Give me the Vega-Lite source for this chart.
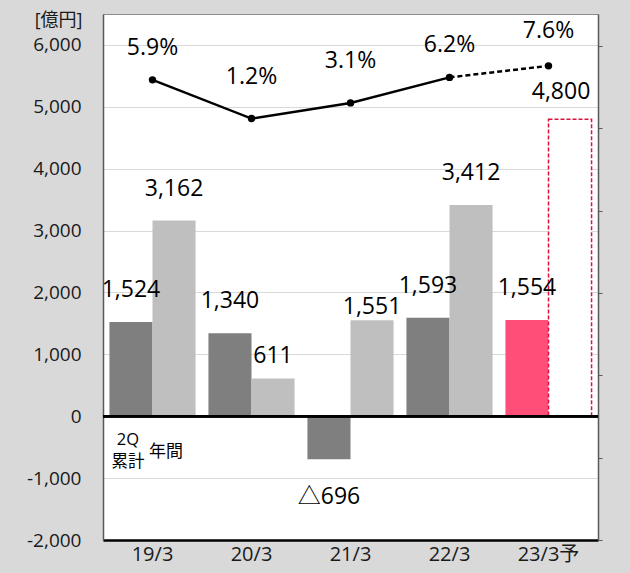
{
  "$schema": "https://vega.github.io/schema/vega-lite/v6.json",
  "width": 495,
  "height": 526,
  "autosize": {"type": "none"},
  "padding": {"left": 103, "top": 14, "right": 32, "bottom": 33},
  "background": "#d9d9d9",
  "config": {
    "font": "Open Sans, Noto Sans CJK JP",
    "view": {"fill": "white", "stroke": "#8c8c8c", "strokeWidth": 1},
    "scale": {"offsetBandPaddingInner": 0, "offsetBandPaddingOuter": 0},
    "axisX": {"title": null, "labelAngle": 0, "labelFontSize": 20, "labelColor": "#1a1a1a", "ticks": false, "domainColor": "#000000", "domainWidth": 2.5, "labelPadding": 4, "grid": false, "labelFont": "Open Sans, Noto Sans CJK JP"},
    "axisLeft": {"titleAngle": 0, "titleAlign": "right", "titleBaseline": "middle", "titleX": -21, "titleY": 6, "titleFontSize": 18, "titleFontWeight": "normal", "titleColor": "#1a1a1a", "titleFont": "Open Sans, Noto Sans CJK JP", "labelFontSize": 19, "labelColor": "#1a1a1a", "labelPadding": 22, "ticks": false, "domainColor": "#595959", "domainWidth": 1.5, "grid": true, "gridColor": "#d9d9d9", "gridWidth": 1.2, "labelFont": "Open Sans, Noto Sans CJK JP"},
    "axisRight": {"labels": false, "grid": false, "ticks": true, "tickSize": 4, "tickColor": "#595959", "domainColor": "#595959", "domainWidth": 1.5, "title": null}
  },
  "datasets": {
    "bars": [
      {"cat": "19/3", "series": "2Q", "kind": "2Q", "value": 1524, "label": "1,524"},
      {"cat": "19/3", "series": "年間", "kind": "年間", "value": 3162, "label": "3,162"},
      {"cat": "20/3", "series": "2Q", "kind": "2Q", "value": 1340, "label": "1,340"},
      {"cat": "20/3", "series": "年間", "kind": "年間", "value": 611, "label": "611"},
      {"cat": "21/3", "series": "2Q", "kind": "2Q", "value": -696, "label": "△696"},
      {"cat": "21/3", "series": "年間", "kind": "年間", "value": 1551, "label": "1,551"},
      {"cat": "22/3", "series": "2Q", "kind": "2Q", "value": 1593, "label": "1,593"},
      {"cat": "22/3", "series": "年間", "kind": "年間", "value": 3412, "label": "3,412"},
      {"cat": "23/3予", "series": "2Q", "kind": "2Q今期", "value": 1554, "label": "1,554"},
      {"cat": "23/3予", "series": "年間", "kind": "予想", "value": 4800, "label": "4,800"}
    ],
    "notes": [
      {"cat": "19/3", "series": "2Q", "text": "2Q\n累計"},
      {"cat": "19/3", "series": "年間", "text": "年間"}
    ],
    "pct": [
      {"cat": "19/3", "pct": 5.9, "label": "5.9%"},
      {"cat": "20/3", "pct": 1.2, "label": "1.2%"},
      {"cat": "21/3", "pct": 3.1, "label": "3.1%"},
      {"cat": "22/3", "pct": 6.2, "label": "6.2%"},
      {"cat": "23/3予", "pct": 7.6, "label": "7.6%"}
    ]
  },
  "layer": [
    {
      "layer": [
        {
          "data": {"name": "bars"},
          "transform": [{"filter": "datum.kind != '予想'"}],
          "mark": {"type": "bar"},
          "encoding": {
            "x": {"field": "cat", "type": "nominal", "sort": ["19/3", "20/3", "21/3", "22/3", "23/3予"], "scale": {"type": "band", "paddingInner": 0.13, "paddingOuter": 0.065}},
            "xOffset": {"field": "series", "type": "nominal", "sort": ["2Q", "年間"]},
            "y": {"field": "value", "type": "quantitative", "title": "[億円]", "scale": {"domain": [-2000, 6500], "nice": false, "zero": false}, "axis": {"values": [-2000, -1000, 0, 1000, 2000, 3000, 4000, 5000, 6000], "labelExpr": "datum.value < 0 ? '-' + format(-datum.value, ',') : format(datum.value, ',')"}},
            "color": {"field": "kind", "type": "nominal", "scale": {"domain": ["2Q", "年間", "2Q今期"], "range": ["#7f7f7f", "#bfbfbf", "#ff4f79"]}, "legend": null}
          }
        },
        {
          "data": {"name": "bars"},
          "transform": [{"filter": "datum.kind == '予想'"}],
          "mark": {"type": "bar", "fill": "white", "stroke": "#e0103c", "strokeWidth": 1.5, "strokeDash": [4, 2]},
          "encoding": {
            "x": {"field": "cat", "type": "nominal", "sort": ["19/3", "20/3", "21/3", "22/3", "23/3予"], "scale": {"type": "band", "paddingInner": 0.13, "paddingOuter": 0.065}},
            "xOffset": {"field": "series", "type": "nominal", "sort": ["2Q", "年間"]},
            "y": {"field": "value", "type": "quantitative", "title": "[億円]"}
          }
        },
        {
          "data": {"name": "bars"},
          "mark": {"type": "rule", "color": "#000000", "strokeWidth": 2},
          "encoding": {"y": {"datum": 0, "type": "quantitative"}}
        },
        {
          "data": {"name": "bars"},
          "transform": [{"filter": "indexof(['1,524','3,162','1,340','1,593','3,412','1,554'], datum.label) >= 0"}],
          "mark": {"type": "text", "fontSize": 23, "baseline": "middle", "dy": -32, "color": "#000000"},
          "encoding": {
            "x": {"field": "cat", "type": "nominal", "sort": ["19/3", "20/3", "21/3", "22/3", "23/3予"], "scale": {"type": "band", "paddingInner": 0.13, "paddingOuter": 0.065}},
            "xOffset": {"field": "series", "type": "nominal", "sort": ["2Q", "年間"]},
            "y": {"field": "value", "type": "quantitative", "title": "[億円]"},
            "text": {"field": "label"}
          }
        },
        {
          "data": {"name": "bars"},
          "transform": [{"filter": "datum.label == '611'"}],
          "mark": {"type": "text", "fontSize": 23, "baseline": "middle", "dy": -22, "color": "#000000"},
          "encoding": {
            "x": {"field": "cat", "type": "nominal", "sort": ["19/3", "20/3", "21/3", "22/3", "23/3予"], "scale": {"type": "band", "paddingInner": 0.13, "paddingOuter": 0.065}},
            "xOffset": {"field": "series", "type": "nominal", "sort": ["2Q", "年間"]},
            "y": {"field": "value", "type": "quantitative", "title": "[億円]"},
            "text": {"field": "label"}
          }
        },
        {
          "data": {"name": "bars"},
          "transform": [{"filter": "datum.label == '1,551'"}],
          "mark": {"type": "text", "fontSize": 23, "baseline": "middle", "dy": -13, "color": "#000000"},
          "encoding": {
            "x": {"field": "cat", "type": "nominal", "sort": ["19/3", "20/3", "21/3", "22/3", "23/3予"], "scale": {"type": "band", "paddingInner": 0.13, "paddingOuter": 0.065}},
            "xOffset": {"field": "series", "type": "nominal", "sort": ["2Q", "年間"]},
            "y": {"field": "value", "type": "quantitative", "title": "[億円]"},
            "text": {"field": "label"}
          }
        },
        {
          "data": {"name": "bars"},
          "transform": [{"filter": "datum.label == '4,800'"}],
          "mark": {"type": "text", "fontSize": 23, "baseline": "middle", "dy": -27, "dx": -9, "color": "#000000"},
          "encoding": {
            "x": {"field": "cat", "type": "nominal", "sort": ["19/3", "20/3", "21/3", "22/3", "23/3予"], "scale": {"type": "band", "paddingInner": 0.13, "paddingOuter": 0.065}},
            "xOffset": {"field": "series", "type": "nominal", "sort": ["2Q", "年間"]},
            "y": {"field": "value", "type": "quantitative", "title": "[億円]"},
            "text": {"field": "label"}
          }
        },
        {
          "data": {"name": "bars"},
          "transform": [{"filter": "datum.label == '△696'"}],
          "mark": {"type": "text", "fontSize": 23, "baseline": "middle", "dy": 38, "color": "#000000"},
          "encoding": {
            "x": {"field": "cat", "type": "nominal", "sort": ["19/3", "20/3", "21/3", "22/3", "23/3予"], "scale": {"type": "band", "paddingInner": 0.13, "paddingOuter": 0.065}},
            "xOffset": {"field": "series", "type": "nominal", "sort": ["2Q", "年間"]},
            "y": {"field": "value", "type": "quantitative", "title": "[億円]"},
            "text": {"field": "label"}
          }
        },
        {
          "data": {"name": "notes"},
          "transform": [{"filter": "datum.series == '2Q'"}],
          "mark": {"type": "text", "fontSize": 16.5, "baseline": "middle", "lineBreak": "\n", "lineHeight": 22, "dx": -3, "dy": -12, "color": "#000000"},
          "encoding": {
            "x": {"field": "cat", "type": "nominal", "sort": ["19/3", "20/3", "21/3", "22/3", "23/3予"], "scale": {"type": "band", "paddingInner": 0.13, "paddingOuter": 0.065}},
            "xOffset": {"field": "series", "type": "nominal", "sort": ["2Q", "年間"]},
            "y": {"datum": -580, "type": "quantitative"},
            "text": {"field": "text"}
          }
        },
        {
          "data": {"name": "notes"},
          "transform": [{"filter": "datum.series == '年間'"}],
          "mark": {"type": "text", "fontSize": 17, "baseline": "middle", "dx": -8, "color": "#000000"},
          "encoding": {
            "x": {"field": "cat", "type": "nominal", "sort": ["19/3", "20/3", "21/3", "22/3", "23/3予"], "scale": {"type": "band", "paddingInner": 0.13, "paddingOuter": 0.065}},
            "xOffset": {"field": "series", "type": "nominal", "sort": ["2Q", "年間"]},
            "y": {"datum": -580, "type": "quantitative"},
            "text": {"field": "text"}
          }
        }
      ]
    },
    {
      "data": {"name": "pct"},
      "layer": [
        {
          "transform": [{"filter": "datum.cat != '23/3予'"}],
          "mark": {"type": "line", "color": "#000000", "strokeWidth": 2.5},
          "encoding": {
            "x": {"field": "cat", "type": "nominal", "sort": ["19/3", "20/3", "21/3", "22/3", "23/3予"], "scale": {"type": "band", "paddingInner": 0.13, "paddingOuter": 0.065}},
            "y": {"field": "pct", "type": "quantitative", "title": null, "scale": {"domain": [-50, 13.9], "nice": false, "zero": false}, "axis": {"orient": "right", "values": [-50, -40, -30, -20, -10, 0, 10]}}
          }
        },
        {
          "transform": [{"filter": "datum.cat == '22/3' || datum.cat == '23/3予'"}],
          "mark": {"type": "line", "color": "#000000", "strokeWidth": 2.5, "strokeDash": [5, 3]},
          "encoding": {
            "x": {"field": "cat", "type": "nominal", "sort": ["19/3", "20/3", "21/3", "22/3", "23/3予"], "scale": {"type": "band", "paddingInner": 0.13, "paddingOuter": 0.065}},
            "y": {"field": "pct", "type": "quantitative", "title": null}
          }
        },
        {
          "mark": {"type": "circle", "color": "#000000", "size": 55, "opacity": 1},
          "encoding": {
            "x": {"field": "cat", "type": "nominal", "sort": ["19/3", "20/3", "21/3", "22/3", "23/3予"], "scale": {"type": "band", "paddingInner": 0.13, "paddingOuter": 0.065}},
            "y": {"field": "pct", "type": "quantitative", "title": null}
          }
        },
        {
          "transform": [{"filter": "datum.cat == '19/3' || datum.cat == '22/3'"}],
          "mark": {"type": "text", "fontSize": 23, "baseline": "middle", "dy": -32, "color": "#000000"},
          "encoding": {
            "x": {"field": "cat", "type": "nominal", "sort": ["19/3", "20/3", "21/3", "22/3", "23/3予"], "scale": {"type": "band", "paddingInner": 0.13, "paddingOuter": 0.065}},
            "y": {"field": "pct", "type": "quantitative", "title": null},
            "text": {"field": "label"}
          }
        },
        {
          "transform": [{"filter": "datum.cat == '20/3' || datum.cat == '21/3'"}],
          "mark": {"type": "text", "fontSize": 23, "baseline": "middle", "dy": -42, "color": "#000000"},
          "encoding": {
            "x": {"field": "cat", "type": "nominal", "sort": ["19/3", "20/3", "21/3", "22/3", "23/3予"], "scale": {"type": "band", "paddingInner": 0.13, "paddingOuter": 0.065}},
            "y": {"field": "pct", "type": "quantitative", "title": null},
            "text": {"field": "label"}
          }
        },
        {
          "transform": [{"filter": "datum.cat == '23/3予'"}],
          "mark": {"type": "text", "fontSize": 23, "baseline": "middle", "dy": -35, "color": "#000000"},
          "encoding": {
            "x": {"field": "cat", "type": "nominal", "sort": ["19/3", "20/3", "21/3", "22/3", "23/3予"], "scale": {"type": "band", "paddingInner": 0.13, "paddingOuter": 0.065}},
            "y": {"field": "pct", "type": "quantitative", "title": null},
            "text": {"field": "label"}
          }
        }
      ]
    }
  ],
  "resolve": {"scale": {"y": "independent"}, "axis": {"y": "independent"}}
}
